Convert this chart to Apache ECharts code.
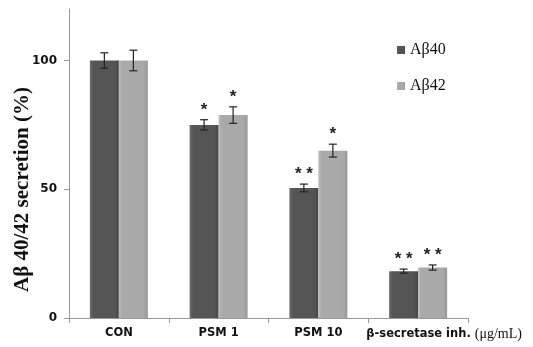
<!DOCTYPE html>
<html>
<head>
<meta charset="utf-8">
<script src="https://cdn.jsdelivr.net/npm/echarts@6/dist/echarts.min.js"></script>
<style>html,body{margin:0;padding:0;background:#fff;}#c{width:533px;height:347px;}</style>
</head>
<body>
<div id="c"></div>
<script>
const categories = ['CON', 'PSM 1', 'PSM 10', 'β-secretase inh. (μg/mL)'];
const seriesNames = ['Aβ40', 'Aβ42'];
const ab40 = [100, 75, 50.5, 18.2];
const ab42 = [100, 78.8, 65, 19.6];
const ab40Err = [3, 2, 1.5, 0.8];
const ab42Err = [4, 3.2, 2.5, 1];
const ab40Sig = ['', '*', '**', '**'];
const ab42Sig = ['', '*', '*', '**'];
const yTicks = [0, 50, 100];

const chart = echarts.init(document.getElementById('c'));
const BW = 29;

function grad(c1, c2, c3) {
  return new echarts.graphic.LinearGradient(0, 0, 1, 0, [
    {offset: 0, color: c1}, {offset: 0.12, color: c2}, {offset: 0.85, color: c2}, {offset: 1, color: c3}
  ]);
}
const darkCol = grad('#6c6c6c', '#555555', '#454545');
const lightCol = grad('#bcbcbc', '#a9a9a9', '#989898');

function errSeries(vals, errs, sigs, offset) {
  return {
    type: 'custom',
    silent: true,
    z: 10,
    data: vals.map((v, i) => [i, v, errs[i]]),
    renderItem: function (params, api) {
      const i = api.value(0), v = api.value(1), e = api.value(2);
      const sig = sigs[i];
      const top = api.coord([i, v + e]);
      const bot = api.coord([i, v - e]);
      const x = top[0] + offset;
      const cap = 4;
      const style = {stroke: '#222', lineWidth: 1.2};
      const children = [
        {type: 'line', shape: {x1: x, y1: top[1], x2: x, y2: bot[1]}, style: style},
        {type: 'line', shape: {x1: x - cap, y1: top[1], x2: x + cap, y2: top[1]}, style: style},
        {type: 'line', shape: {x1: x - cap, y1: bot[1], x2: x + cap, y2: bot[1]}, style: style}
      ];
      if (sig) {
        children.push({
          type: 'text',
          style: {
            text: sig.split('').join(' '),
            x: x, y: top[1] - 1,
            align: 'center', verticalAlign: 'bottom',
            font: 'bold 17px "Liberation Sans", Arial, sans-serif',
            fill: '#222'
          }
        });
      }
      return {type: 'group', children: children};
    }
  };
}

const lastIdx = categories.length - 1;

chart.setOption({
  animation: false,
  backgroundColor: '#fff',
  grid: {left: 69, right: 65, top: 9, bottom: 29, outerBoundsMode: 'none', containLabel: false},
  legend: {
    orient: 'vertical',
    left: 392, top: 37,
    itemWidth: 8, itemHeight: 8, itemGap: 20,
    icon: 'rect',
    data: seriesNames,
    textStyle: {fontFamily: '"Liberation Serif", "Times New Roman", serif', fontSize: 16, color: '#111'}
  },
  xAxis: {
    type: 'category',
    data: categories.map((c, i) => i === lastIdx ? {value: c, textStyle: {padding: [0, 0, 0, 52]}} : c),
    axisLine: {lineStyle: {color: '#999', width: 1}},
    axisTick: {show: true, length: 5, lineStyle: {color: '#999'}},
    axisLabel: {
      interval: 0, hideOverlap: false,
      color: '#111', fontWeight: 'bold', fontSize: 11.5, margin: 9,
      fontFamily: '"DejaVu Sans", "Noto Sans", sans-serif',
      formatter: function (v) {
        const k = v.indexOf('(');
        return k >= 0 ? v.slice(0, k) + '{u|' + v.slice(k) + '}' : v;
      },
      rich: {u: {fontFamily: '"Liberation Serif", "Times New Roman", serif', fontSize: 14, fontWeight: 'normal', color: '#111'}}
    }
  },
  yAxis: {
    type: 'value', min: 0, max: 120, interval: 50,
    name: 'Aβ 40/42 secretion (%)',
    nameLocation: 'middle', nameGap: 36, nameRotate: 90, nameMoveOverlap: false,
    nameTextStyle: {fontFamily: '"Liberation Serif", "Times New Roman", serif', fontWeight: 'bold', fontSize: 21, color: '#111', padding: [0, 52, 0, 0]},
    axisLine: {show: true, lineStyle: {color: '#999', width: 1}},
    axisTick: {show: true, length: 5, lineStyle: {color: '#999'}},
    splitLine: {show: false},
    axisLabel: {
      color: '#111', fontWeight: 'bold', fontSize: 12, margin: 12, showMaxLabel: false,
      fontFamily: '"DejaVu Sans", "Noto Sans", sans-serif',
      formatter: function (v) { return yTicks.indexOf(v) >= 0 ? String(v) : ''; }
    }
  },
  series: [
    {name: seriesNames[0], type: 'bar', data: ab40, barWidth: BW, barGap: '0%', itemStyle: {color: darkCol}},
    {name: seriesNames[1], type: 'bar', data: ab42, barWidth: BW, barGap: '0%', itemStyle: {color: lightCol}},
    errSeries(ab40, ab40Err, ab40Sig, -BW / 2),
    errSeries(ab42, ab42Err, ab42Sig, BW / 2)
  ]
});
</script>
</body>
</html>
